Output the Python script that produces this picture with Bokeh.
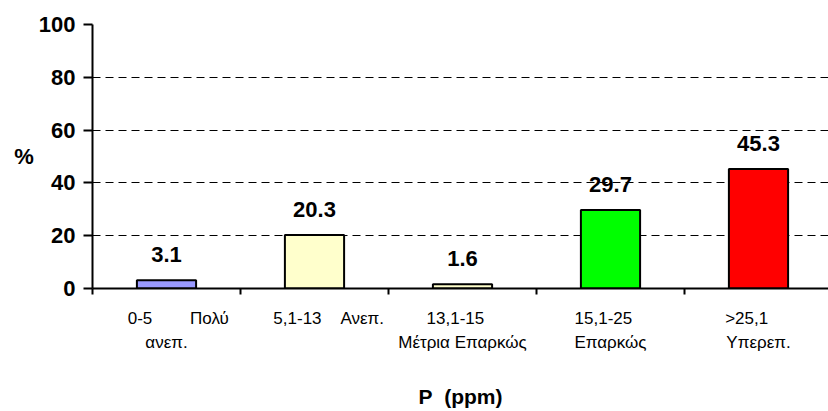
from bokeh.plotting import figure
from bokeh.models import Range1d, FixedTicker, ColumnDataSource, Label, LabelSet
from bokeh.core.properties import value
from bokeh.embed import file_html
from bokeh.resources import INLINE

NB = "\u00a0"
categories = [
    "0-5 Πολύ ανεπ.",
    "5,1-13 Ανεπ.",
    "13,1-15 Μέτρια Επαρκώς",
    "15,1-25 Επαρκώς",
    ">25,1 Υπερεπ.",
]
tick_labels = [
    NB * 5 + "0-5" + NB * 8 + "Πολύ\nανεπ.",
    NB * 6 + "5,1-13" + NB * 4 + "Ανεπ.",
    "13,1-15" + NB * 3 + "\nΜέτρια Επαρκώς",
    "15,1-25" + NB * 3 + "\nΕπαρκώς",
    ">25,1" + NB * 5 + "\nΥπερεπ.",
]
values = [3.1, 20.3, 1.6, 29.7, 45.3]
colors = ["#9999FF", "#FFFFCC", "#FFFFCC", "#00FF00", "#FF0000"]
y_ticks = [0, 20, 40, 60, 80, 100]

xpos = [i + 0.5 for i in range(len(values))]
src = ColumnDataSource(dict(x=xpos, top=values, color=colors, cat=categories,
                            label=[f"{v:.1f}" for v in values]))

FONT = "Liberation Sans"

p = figure(width=828, height=411, output_backend="svg", toolbar_location=None,
           x_range=Range1d(0, 4.973), y_range=Range1d(0, 100),
           min_border_left=92, min_border_right=0, min_border_top=24,
           min_border_bottom=122)
p.outline_line_color = None
p.background_fill_color = "white"

p.vbar(x="x", top="top", width=0.4, bottom=0, fill_color="color",
       line_color="black", line_width=2, source=src)

p.add_layout(LabelSet(x="x", y="top", text="label", source=src,
                      y_offset=18, text_align="center",
                      text_baseline="alphabetic",
                      text_font=value(FONT), text_font_style="bold",
                      text_font_size="22px", text_color="black"))

# x axis
xa = p.xaxis[0]
xa.ticker = FixedTicker(ticks=xpos, minor_ticks=[0, 1, 2, 3, 4, 5])
xa.major_label_overrides = {x: t for x, t in zip(xpos, tick_labels)}
xa.major_tick_line_color = None
xa.minor_tick_out = 6
xa.minor_tick_in = 0
xa.minor_tick_line_color = "black"
xa.minor_tick_line_width = 2
xa.axis_line_color = "black"
xa.axis_line_width = 2
xa.major_label_text_font = FONT
xa.major_label_text_font_size = "17px"
xa.major_label_text_color = "black"
xa.major_label_text_line_height = 1.3
xa.major_label_standoff = 14
xa.axis_label = "P" + NB * 2 + "(ppm)"
xa.axis_label_text_font = FONT
xa.axis_label_text_font_style = "bold"
xa.axis_label_text_font_size = "21px"
xa.axis_label_text_color = "black"
xa.axis_label_standoff = 30

# y axis
ya = p.yaxis[0]
ya.ticker = FixedTicker(ticks=y_ticks)
ya.major_tick_out = 9
ya.major_tick_in = 0
ya.major_tick_line_width = 2
ya.major_tick_line_color = "black"
ya.minor_tick_line_color = None
ya.axis_line_color = "black"
ya.axis_line_width = 2
ya.major_label_text_font = FONT
ya.major_label_text_font_style = "bold"
ya.major_label_text_font_size = "22px"
ya.major_label_text_color = "black"
ya.major_label_standoff = 8

if "axis_label_orientation" in ya.properties():
    ya.axis_label = "%"
    ya.axis_label_orientation = "horizontal"
    ya.axis_label_standoff = 2
    ya.axis_label_text_font = FONT
    ya.axis_label_text_font_style = "bold"
    ya.axis_label_text_font_size = "22px"
    ya.axis_label_text_color = "black"
else:
    p.add_layout(Label(x=12, y=411 - 155, x_units="screen", y_units="screen",
                       text="%", text_align="left", text_baseline="middle",
                       text_font=FONT, text_font_style="bold",
                       text_font_size="22px", text_color="black"))

p.xgrid.grid_line_color = None
p.ygrid.ticker = FixedTicker(ticks=y_ticks[1:])
p.ygrid.grid_line_color = "black"
p.ygrid.grid_line_dash = "8 5"
p.ygrid.grid_line_width = 1

open("out.html", "w").write(file_html(p, INLINE))
